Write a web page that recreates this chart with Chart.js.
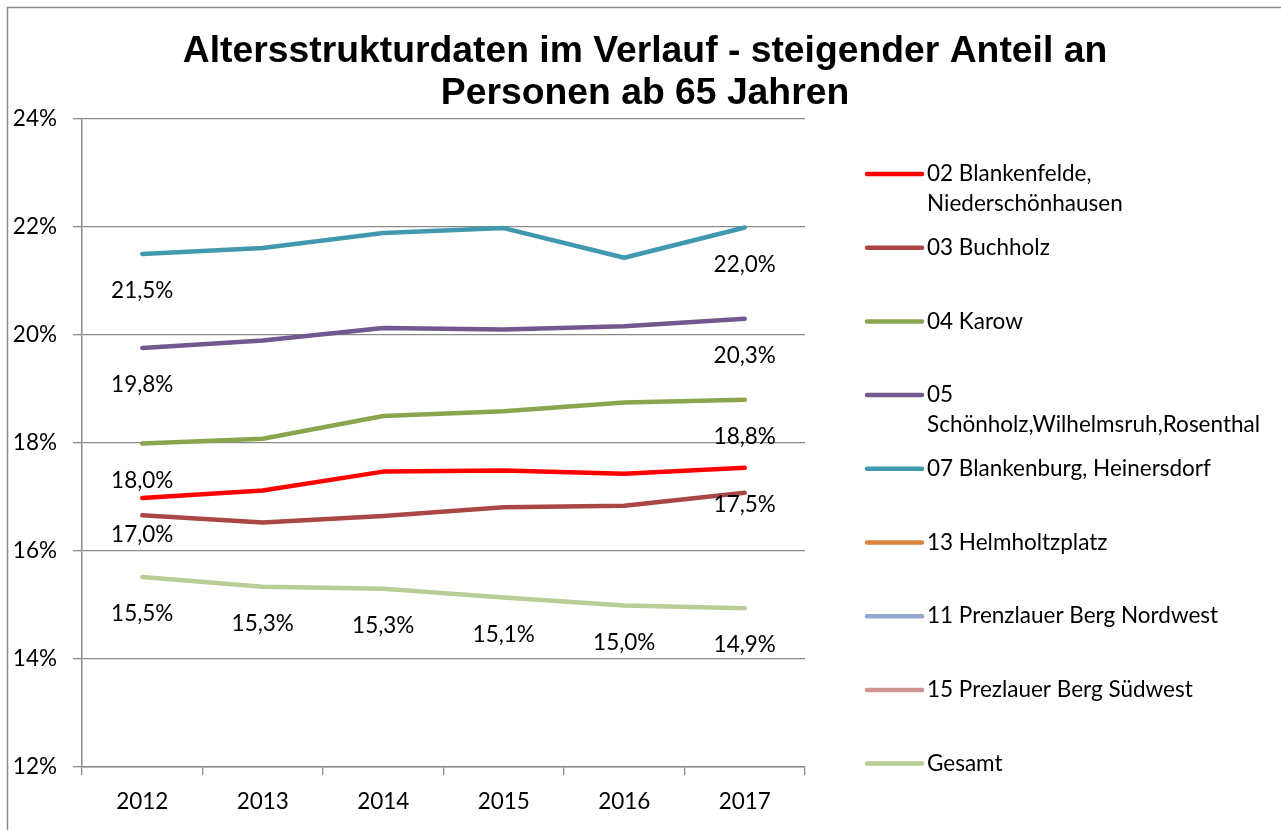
<!DOCTYPE html>
<html>
<head>
<meta charset="utf-8">
<title>Altersstruktur</title>
<script src="https://cdn.jsdelivr.net/npm/chart.js"></script>
<style>
  body { margin: 0; background: #fff; }
  #wrap { width: 1281px; height: 830px; }
</style>
</head>
<body>
<div id="wrap"><canvas id="myChart" width="1281" height="830"></canvas></div>
<script>
const years = ['2012', '2013', '2014', '2015', '2016', '2017'];
const yTicks = [12, 14, 16, 18, 20, 22, 24];

const blankenfelde = [16.98, 17.12, 17.47, 17.49, 17.43, 17.54];
const buchholz = [16.66, 16.53, 16.65, 16.81, 16.84, 17.08];
const karow = [17.99, 18.08, 18.50, 18.59, 18.75, 18.80];
const schoenholz = [19.76, 19.90, 20.13, 20.10, 20.16, 20.30];
const blankenburg = [21.50, 21.61, 21.89, 21.98, 21.43, 21.99];
const helmholtz = [null, null, null, null, null, null];
const prenzlNW = [null, null, null, null, null, null];
const prenzlSW = [null, null, null, null, null, null];
const gesamt = [15.52, 15.34, 15.30, 15.14, 14.99, 14.94];

const seriesNames = [
    ['02 Blankenfelde,', 'Niederschönhausen'],
    ['03 Buchholz'],
    ['04 Karow'],
    ['05', 'Schönholz,Wilhelmsruh,Rosenthal'],
    ['07 Blankenburg, Heinersdorf'],
    ['13 Helmholtzplatz'],
    ['11 Prenzlauer Berg Nordwest'],
    ['15 Prezlauer Berg Südwest'],
    ['Gesamt']
];
const seriesData = [blankenfelde, buchholz, karow, schoenholz, blankenburg, helmholtz, prenzlNW, prenzlSW, gesamt];
const seriesColors = ['#FF0000', '#AA4643', '#89A54E', '#71588F', '#4198AF', '#DB843D', '#93A9CF', '#D19392', '#B9CD96'];
// which points carry a value label
const labelIdx = [[0, 5], [], [0, 5], [0, 5], [0, 5], [], [], [], [0, 1, 2, 3, 4, 5]];

const titleLines = ['Altersstrukturdaten im Verlauf - steigender Anteil an', 'Personen ab 65 Jahren'];

const FONT = 'Lato, "Open Sans", sans-serif';
const FSIZE = 22.5;
const GRID = '#8a8a8a';

const framePlugin = {
    id: 'frame',
    beforeDraw(chart) {
        const ctx = chart.ctx;
        ctx.save();
        ctx.fillStyle = '#fff';
        ctx.fillRect(0, 0, chart.width, chart.height);
        ctx.strokeStyle = GRID;
        ctx.lineWidth = 1.5;
        ctx.beginPath();
        ctx.moveTo(7.5, chart.height);
        ctx.lineTo(7.5, 7.5);
        ctx.lineTo(chart.width, 7.5);
        ctx.stroke();
        ctx.restore();
    },
    afterDraw(chart) {
        const ctx = chart.ctx;
        const area = chart.chartArea;
        ctx.save();
        // title
        ctx.fillStyle = '#000';
        ctx.font = 'bold 37.3px "Liberation Sans", Arial, sans-serif';
        ctx.textAlign = 'center';
        ctx.textBaseline = 'alphabetic';
        ctx.fillText(titleLines[0], 645, 62);
        ctx.fillText(titleLines[1], 645, 104);

        // legend
        ctx.font = FSIZE + 'px ' + FONT;
        ctx.textAlign = 'left';
        ctx.textBaseline = 'middle';
        const x0 = area.right + 62;
        const step = 73.7;
        seriesNames.forEach((lines, i) => {
            const y = 174 + i * step;
            ctx.strokeStyle = seriesColors[i];
            ctx.lineWidth = 4.5;
            ctx.lineCap = 'round';
            ctx.beginPath();
            ctx.moveTo(x0, y);
            ctx.lineTo(x0 + 55, y);
            ctx.stroke();
            ctx.fillStyle = '#000';
            lines.forEach((t, k) => ctx.fillText(t, x0 + 60, y + k * 29.5));
        });
        ctx.restore();
    },
    afterDatasetsDraw(chart) {
        const ctx = chart.ctx;
        ctx.save();
        ctx.font = FSIZE + 'px ' + FONT;
        ctx.fillStyle = '#000';
        ctx.textAlign = 'center';
        ctx.textBaseline = 'middle';
        chart.data.datasets.forEach((ds, di) => {
            const meta = chart.getDatasetMeta(di);
            labelIdx[di].forEach(idx => {
                const v = ds.data[idx];
                if (v == null) return;
                const pt = meta.data[idx];
                const txt = v.toFixed(1).replace('.', ',') + '%';
                ctx.fillText(txt, pt.x, pt.y + 37);
            });
        });
        ctx.restore();
    }
};

const ctx = document.getElementById('myChart').getContext('2d');
new Chart(ctx, {
    type: 'line',
    data: {
        labels: years,
        datasets: seriesData.map((d, i) => ({
            label: seriesNames[i].join(' '),
            data: d,
            borderColor: seriesColors[i],
            backgroundColor: seriesColors[i],
            borderWidth: 4.5,
            borderCapStyle: 'round',
            borderJoinStyle: 'round',
            pointRadius: 0,
            tension: 0,
            fill: false
        }))
    },
    options: {
        responsive: false,
        animation: false,
        layout: { padding: { left: 0, top: 119, right: 476, bottom: 0 } },
        plugins: {
            legend: { display: false },
            title: { display: false },
            tooltip: { enabled: false }
        },
        scales: {
            x: {
                offset: true,
                afterFit(scale) { scale.height = 63; },
                grid: {
                    offset: true,
                    drawOnChartArea: false,
                    drawTicks: true,
                    tickLength: 8,
                    color: GRID,
                    lineWidth: 1.3
                },
                border: { color: GRID, width: 1.5 },
                ticks: {
                    font: { family: FONT, size: FSIZE },
                    color: '#000',
                    padding: 13,
                    maxRotation: 0
                }
            },
            y: {
                min: 12,
                max: 24,
                afterFit(scale) { scale.width = 82; },
                afterBuildTicks(scale) { scale.ticks = yTicks.map(v => ({ value: v })); },
                grid: {
                    color: GRID,
                    lineWidth: 1.3,
                    tickLength: 9
                },
                border: { color: GRID, width: 1.5 },
                ticks: {
                    font: { family: FONT, size: FSIZE },
                    color: '#000',
                    padding: 16,
                    callback: v => v + '%'
                }
            }
        }
    },
    plugins: [framePlugin]
});
</script>
</body>
</html>
